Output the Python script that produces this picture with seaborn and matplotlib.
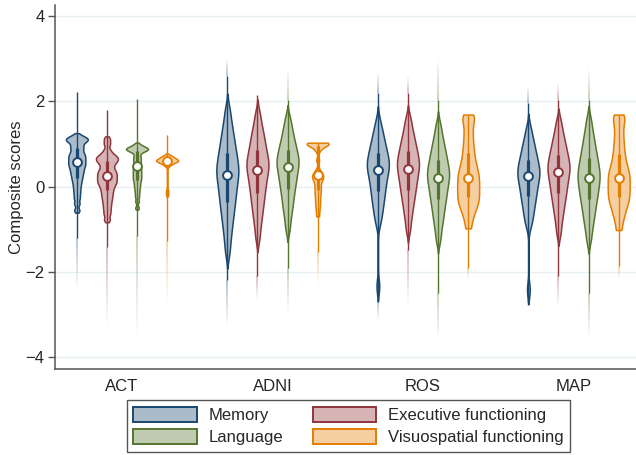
import numpy as np
import pandas as pd
import seaborn as sns
import matplotlib.pyplot as plt
import matplotlib.colors as mcolors
from matplotlib.patches import Patch
from matplotlib.collections import LineCollection

cohorts = ['ACT', 'ADNI', 'ROS', 'MAP']
domains = ['Memory', 'Executive functioning', 'Language', 'Visuospatial functioning']

# body of each violin: score values
act_mem = [-0.56, -0.40, -0.27, -0.16, -0.06, 0.03, 0.11, 0.18, 0.24, 0.30, 0.35, 0.40, 0.45, 0.49, 0.53,
           0.57, 0.61, 0.65, 0.69, 0.73, 0.77, 0.82, 0.88, 0.93, 0.98, 1.04, 1.08, 1.10, 1.12, 1.15, 1.20]
act_exe = [-0.78, -0.64, -0.53, -0.43, -0.34, -0.26, -0.19, -0.12, -0.06, 0.00, 0.05, 0.09, 0.13, 0.17, 0.21,
           0.25, 0.29, 0.33, 0.37, 0.42, 0.48, 0.54, 0.58, 0.62, 0.65, 0.68, 0.72, 0.76, 0.85, 1.00, 1.12]
act_lan = [-0.50, -0.35, -0.24, -0.15, -0.07, 0.00, 0.06, 0.12, 0.17, 0.21, 0.26, 0.30, 0.35, 0.39, 0.44,
           0.48, 0.53, 0.58, 0.63, 0.68, 0.73, 0.80, 0.83, 0.85, 0.87, 0.88, 0.89, 0.90, 0.92, 0.95, 0.99]
act_vis = [-0.20, -0.14, -0.08, 0.48, 0.50, 0.52, 0.54, 0.55, 0.56, 0.57, 0.58, 0.59, 0.59, 0.60, 0.60,
           0.61, 0.61, 0.62, 0.62, 0.63, 0.63, 0.64, 0.65, 0.66, 0.67, 0.68, 0.69, 0.70, 0.71, 0.72, 0.74]

adni_mem = [-1.54, -1.26, -1.06, -0.89, -0.75, -0.63, -0.51, -0.41, -0.31, -0.22, -0.13, -0.05, 0.04, 0.11, 0.19,
            0.26, 0.32, 0.39, 0.45, 0.52, 0.59, 0.67, 0.75, 0.83, 0.92, 1.02, 1.13, 1.25, 1.38, 1.56, 1.80]
adni_exe = [-1.20, -0.94, -0.77, -0.62, -0.50, -0.39, -0.29, -0.19, -0.11, -0.02, 0.06, 0.13, 0.20, 0.27, 0.34,
            0.40, 0.45, 0.51, 0.56, 0.62, 0.68, 0.75, 0.81, 0.89, 0.96, 1.05, 1.14, 1.24, 1.35, 1.50, 1.71]
adni_lan = [-1.00, -0.77, -0.61, -0.48, -0.37, -0.27, -0.17, -0.09, -0.01, 0.07, 0.14, 0.20, 0.27, 0.33, 0.39,
            0.45, 0.50, 0.55, 0.60, 0.65, 0.70, 0.76, 0.82, 0.88, 0.95, 1.02, 1.10, 1.20, 1.30, 1.43, 1.61]
adni_vis = [-0.70, -0.58, -0.48, -0.40, -0.32, -0.25, -0.18, -0.12, -0.06, 0.00, 0.06, 0.12, 0.16, 0.20, 0.23,
            0.26, 0.29, 0.33, 0.39, 0.62, 0.84, 0.90, 0.94, 0.97, 0.99, 1.00, 1.01, 1.02, 1.02, 1.03, 1.03]

ros_mem = [-2.34, -0.85, -0.68, -0.55, -0.43, -0.33, -0.24, -0.15, -0.07, 0.01, 0.08, 0.15, 0.22, 0.28, 0.34,
           0.40, 0.45, 0.49, 0.54, 0.59, 0.65, 0.70, 0.76, 0.82, 0.89, 0.96, 1.04, 1.13, 1.23, 1.35, 1.53]
ros_exe = [-1.01, -0.78, -0.62, -0.49, -0.38, -0.28, -0.19, -0.11, -0.03, 0.04, 0.11, 0.18, 0.24, 0.30, 0.36,
           0.42, 0.47, 0.52, 0.57, 0.62, 0.68, 0.74, 0.80, 0.86, 0.93, 1.01, 1.09, 1.18, 1.29, 1.42, 1.61]
ros_lan = [-1.25, -1.02, -0.86, -0.73, -0.62, -0.52, -0.42, -0.34, -0.26, -0.19, -0.11, -0.05, 0.02, 0.08, 0.14,
           0.20, 0.25, 0.30, 0.36, 0.41, 0.47, 0.53, 0.60, 0.66, 0.74, 0.82, 0.90, 1.00, 1.11, 1.25, 1.45]
ros_vis = [-0.98, -0.78, -0.65, -0.55, -0.47, -0.40, -0.34, -0.28, -0.22, -0.16, -0.10, -0.04, 0.02, 0.08, 0.14,
           0.20, 0.26, 0.32, 0.39, 0.46, 0.54, 0.63, 0.73, 0.84, 0.96, 1.09, 1.23, 1.38, 1.52, 1.64, 1.69]

map_mem = [-2.42, -0.91, -0.76, -0.64, -0.53, -0.43, -0.35, -0.27, -0.19, -0.12, -0.06, 0.01, 0.07, 0.13, 0.19,
           0.24, 0.29, 0.33, 0.38, 0.43, 0.49, 0.54, 0.60, 0.66, 0.73, 0.80, 0.88, 0.97, 1.07, 1.19, 1.37]
map_exe = [-1.09, -0.86, -0.70, -0.57, -0.46, -0.36, -0.27, -0.19, -0.11, -0.04, 0.03, 0.10, 0.16, 0.22, 0.28,
           0.34, 0.39, 0.44, 0.49, 0.54, 0.60, 0.66, 0.72, 0.78, 0.85, 0.93, 1.01, 1.10, 1.21, 1.34, 1.53]
map_lan = [-1.25, -1.02, -0.86, -0.73, -0.62, -0.52, -0.42, -0.34, -0.26, -0.19, -0.11, -0.05, 0.02, 0.08, 0.14,
           0.20, 0.26, 0.31, 0.37, 0.43, 0.50, 0.56, 0.63, 0.71, 0.79, 0.87, 0.97, 1.08, 1.20, 1.35, 1.57]
map_vis = [-1.02, -0.82, -0.68, -0.58, -0.49, -0.41, -0.34, -0.28, -0.22, -0.16, -0.10, -0.04, 0.02, 0.08, 0.14,
           0.20, 0.26, 0.32, 0.38, 0.45, 0.53, 0.62, 0.72, 0.83, 0.95, 1.08, 1.22, 1.37, 1.51, 1.63, 1.69]

# whisker ends (adjacent values) and faint outer tails
whisk_lo = {'ACT': [-1.2, -1.42, -1.15, -1.27], 'ADNI': [-2.2, -2.1, -1.9, -1.54],
            'ROS': [-2.65, -1.48, -2.5, -1.9], 'MAP': [-2.65, -2.1, -2.5, -1.87]}
whisk_hi = {'ACT': [2.23, 1.79, 2.06, 1.22], 'ADNI': [2.6, 2.14, 2.04, 1.03],
            'ROS': [2.2, 2.2, 2.04, 1.69], 'MAP': [1.96, 2.04, 2.04, 1.69]}
tail_lo = {'ACT': [-2.42, -3.28, -3.5, -2.73], 'ADNI': [-3.28, -2.65, -2.96, -2.34],
           'ROS': [-3.12, -2.81, -3.6, -2.18], 'MAP': [-2.84, -2.81, -3.55, -2.18]}
tail_hi = {'ACT': [2.23, 1.79, 2.06, 1.22], 'ADNI': [2.98, 2.14, 2.75, 1.03],
           'ROS': [2.67, 2.59, 2.98, 1.69], 'MAP': [2.35, 2.43, 2.79, 1.69]}

# kde settings per violin
bw = {'ACT': [0.22, 0.24, 0.2, 0.3], 'ADNI': [0.45, 0.45, 0.45, 0.2],
      'ROS': [0.45, 0.45, 0.45, 0.35], 'MAP': [0.45, 0.45, 0.45, 0.35]}
cut = {'ACT': [1, 1, 1, 1], 'ADNI': [2, 2, 2, 0], 'ROS': [2, 2, 2, 0], 'MAP': [2, 2, 2, 0]}

all_lists = {'ACT': [act_mem, act_exe, act_lan, act_vis],
             'ADNI': [adni_mem, adni_exe, adni_lan, adni_vis],
             'ROS': [ros_mem, ros_exe, ros_lan, ros_vis],
             'MAP': [map_mem, map_exe, map_lan, map_vis]}

rows = []
for c in cohorts:
    for d, vals in zip(domains, all_lists[c]):
        for v in vals:
            rows.append((c, d, v))
df = pd.DataFrame(rows, columns=['cohort', 'domain', 'score'])

edge_cols = ['#1a476f', '#90353b', '#55752f', '#e37e00']
alpha = 0.37
fill_cols = [tuple(1 - alpha + alpha * np.array(mcolors.to_rgb(e))) for e in edge_cols]

sns.set_style('white')
plt.rcParams['font.family'] = ['Liberation Sans', 'DejaVu Sans']

fig = plt.figure(figsize=(6.36, 4.55), dpi=100)
ax = fig.add_axes([55 / 636, 86 / 455, 581 / 636, 364 / 455])
ax.set_axisbelow(True)

offsets = (np.arange(len(domains)) - (len(domains) - 1) / 2) * 0.8 / len(domains)


def fade(x, y0, y1, color):
    ys = np.linspace(y0, y1, 16)
    segs = [[(x, a), (x, b)] for a, b in zip(ys[:-1], ys[1:])]
    cols = [mcolors.to_rgba(color, al) for al in np.linspace(0.4, 0.02, len(segs))]
    ax.add_collection(LineCollection(segs, colors=cols, linewidths=1.1, zorder=2))


for i, c in enumerate(cohorts):
    for j, d in enumerate(domains):
        sub = df[(df.cohort == c) & (df.domain == d)]
        sns.violinplot(data=sub, x='cohort', y='score', hue='domain', order=cohorts, hue_order=domains,
                       palette=fill_cols, saturation=1, linecolor=edge_cols[j], linewidth=1.1,
                       inner=None, cut=cut[c][j], density_norm='width', bw_adjust=bw[c][j], gridsize=400,
                       dodge=True, gap=0.27, legend=False, ax=ax)
        x = i + offsets[j]
        q1, med, q3 = np.percentile(sub.score, [25, 50, 75])
        lo, hi = whisk_lo[c][j], whisk_hi[c][j]
        if tail_lo[c][j] < lo:
            fade(x, lo, tail_lo[c][j], edge_cols[j])
        if tail_hi[c][j] > hi:
            fade(x, hi, tail_hi[c][j], edge_cols[j])
        ax.vlines(x, lo, hi, color=edge_cols[j], lw=1.0, zorder=3)
        ax.vlines(x, q1, q3, color=edge_cols[j], lw=2.3, zorder=3)
        ax.scatter([x], [med], s=40, facecolor='white', edgecolor=edge_cols[j], linewidth=1.4, zorder=4)

ax.set_xlim(-0.445, 3.415)
ax.set_ylim(-4.28, 4.26)
ax.set_yticks([-4, -2, 0, 2, 4])
ax.yaxis.grid(True, color='#e6eff1', lw=1)
ax.xaxis.grid(False)
for s in ['top', 'right']:
    ax.spines[s].set_visible(False)
for s in ['left', 'bottom']:
    ax.spines[s].set_color('#555555')
    ax.spines[s].set_linewidth(1.1)
ax.tick_params(axis='y', length=5, width=1, color='#555555', labelsize=12, pad=2.5, direction='out', left=True)
ax.tick_params(axis='x', length=0, labelsize=12, pad=7)
ax.set_xlabel('')
ax.set_ylabel('Composite scores', fontsize=12, labelpad=1)

handles = [Patch(facecolor=fill_cols[k], edgecolor=edge_cols[k], lw=1.4) for k in range(4)]
order = [0, 2, 1, 3]
fig.legend([handles[k] for k in order], [domains[k] for k in order], ncol=2, loc='upper center',
           bbox_to_anchor=(348.5 / 636, 1 - 400 / 455), frameon=True, fancybox=False, framealpha=1,
           edgecolor='#555555', fontsize=12, handlelength=3.8, handleheight=1.0, handletextpad=0.7,
           columnspacing=1.8, borderpad=0.4, labelspacing=0.35, borderaxespad=0)

fig.savefig('out.png', dpi=100)
